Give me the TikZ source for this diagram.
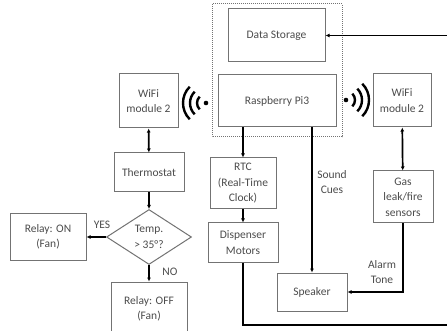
\documentclass[tikz,border=0pt]{standalone}
\usepackage{fontspec}
\setmainfont{Carlito}
\usetikzlibrary{shapes.geometric,arrows.meta}

\tikzset{
  blk/.style={draw=black!55, line width=1pt, fill=white, text=black!70,
    align=center, inner sep=1pt, font=\fontsize{11.5}{15.5}\selectfont},
  link/.style={line width=1.7pt, -{Latex[length=4pt,width=4pt]}},
  both/.style={line width=1.7pt, {Latex[length=4pt,width=4pt]}-{Latex[length=4pt,width=4pt]}},
  lbl/.style={text=black!70, align=center, font=\fontsize{11.5}{15.5}\selectfont},
  wave/.style={line width=2.4pt},
}

\begin{document}
\begin{tikzpicture}[x=1pt,y=-1pt]
\useasboundingbox (0,0) rectangle (447,331);

% Raspberry Pi group
\draw[black!55, densely dotted, line width=1pt] (212,4) rectangle (342,137);
\node[blk, minimum width=97, minimum height=53] (data) at (276.5,35.5) {Data Storage};
\node[blk, minimum width=118, minimum height=52] (rpi) at (277,101) {Raspberry Pi3};

% wireless modules
\node[blk, minimum width=59, minimum height=54] (wifil) at (148.5,101) {WiFi\\module 2};
\node[blk, minimum width=58, minimum height=53] (wifir) at (402,100.5) {WiFi\\module 2};

% thermostat branch
\node[blk, minimum width=70, minimum height=39] (thermo) at (149,172.5) {Thermostat};
\node[blk, shape=diamond, minimum width=85, minimum height=55, inner sep=0pt] (temp) at (149,237) {Temp.\\> 35°?};
\node[blk, minimum width=76, minimum height=46] (relon) at (48,237) {Relay: ON\\(Fan)};
\node[blk, minimum width=76, minimum height=54] (reloff) at (149,309) {Relay: OFF\\(Fan)};

% outputs
\node[blk, minimum width=66, minimum height=51] (rtc) at (243,183.5) {RTC\\(Real-Time\\Clock)};
\node[blk, minimum width=70, minimum height=39] (disp) at (243,242.5) {Dispenser\\Motors};
\node[blk, minimum width=70, minimum height=38] (spk) at (312,292) {Speaker};
\node[blk, minimum width=60, minimum height=52] (gas) at (403,197) {Gas\\leak/fire\\sensors};

% wifi signs
\coordinate (wl) at (206,103);
\coordinate (wr) at (346,100);
\fill (wl) circle (2.3);
\fill (wr) circle (2.3);
\foreach \r in {9,16,23} {
  \draw[wave] ([shift={(135:\r)}]wl) arc (135:225:\r);
  \draw[wave] ([shift={(-45:\r)}]wr) arc (-45:45:\r);
}

% connectors
\draw[both] (wifil) -- (thermo);
\draw[link] (thermo) -- (temp);
\draw[link] (temp.west) -- (relon.east);
\draw[link] (temp.south) -- (reloff.north);
\node[lbl] (yes) at (102,225) {YES};
\node[lbl] (no) at (170,272) {NO};

\draw[link] (rpi.south -| rtc.north) -- (rtc.north);
\draw[link] (rtc) -- (disp);
\draw[link] (rpi.south -| spk.north) -- (spk.north);
\node[lbl] (cues) at (332,182) {Sound\\Cues};

\draw[both] (wifir) -- (gas);
\draw[link] (gas.south) |- (spk.east);
\node[lbl] (tone) at (382,272) {Alarm\\Tone};

\coordinate (se) at (452,325);
\draw[link] (disp.south) |- (se) |- (data.east);
\end{tikzpicture}
\end{document}
